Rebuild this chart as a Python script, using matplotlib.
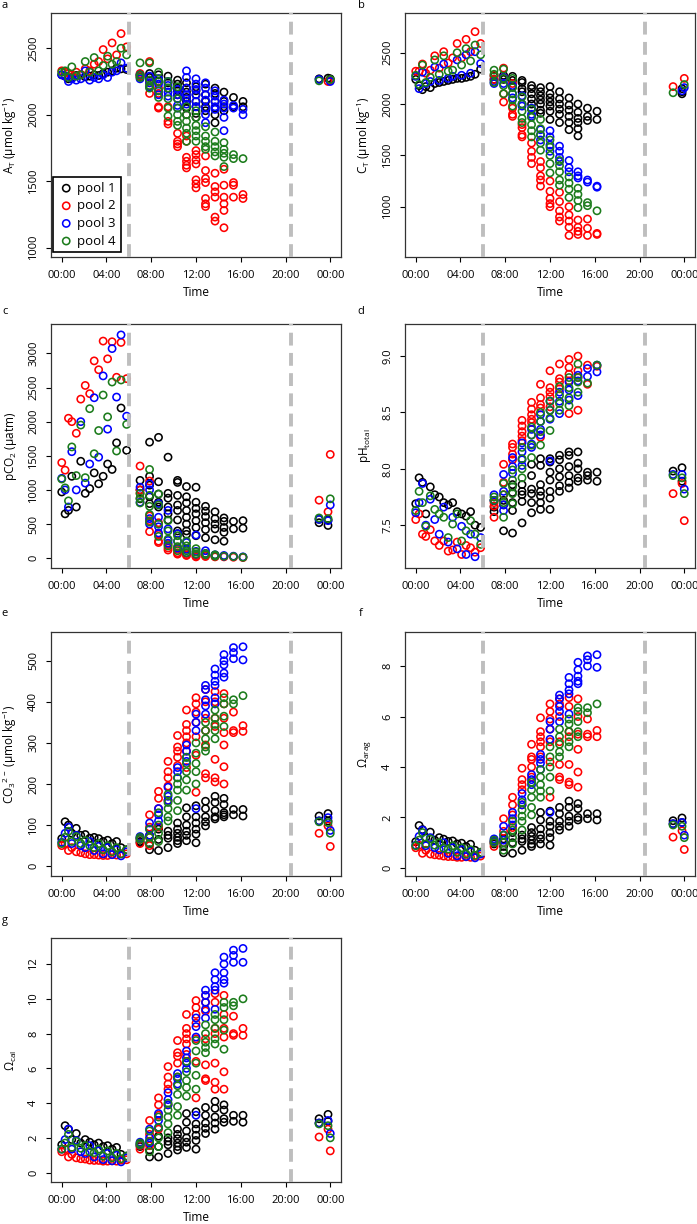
import matplotlib
matplotlib.use("Agg")
import matplotlib.pyplot as plt  # noqa: E402

plt.rcParams["font.family"] = ["Open Sans", "DejaVu Sans"]
plt.rcParams["mathtext.fontset"] = "custom"
plt.rcParams["mathtext.rm"] = "Open Sans"
plt.rcParams["mathtext.default"] = "regular"

# sampling times (hours after midnight); night, daylight and next-morning campaigns
NIGHT_T = [0.0, 0.3, 0.6, 0.9, 1.3, 1.7, 2.1, 2.5, 2.9, 3.3, 3.7, 4.1, 4.5, 4.9, 5.3, 5.8]
DAY_T = [7.0, 7.85, 8.65, 9.5, 10.35, 11.15, 12.0, 12.85, 13.7, 14.5, 15.35, 16.2]
NEXT_T = [23.0, 23.8, 24.0]
POOLS = ["pool 1", "pool 2", "pool 3", "pool 4"]
COLORS = ["black", "#ff0000", "#0000ff", "#1c7c1c"]
DARK_LINES = [6.0, 20.5]
X_TICKS = [0, 4, 8, 12, 16, 20, 24]
X_LABELS = ["00:00", "04:00", "08:00", "12:00", "16:00", "20:00", "00:00"]

# a: total alkalinity
AT_NIGHT = [
    [2300, 2290, 2270, 2280, 2295, 2300, 2285, 2290, 2300, 2295, 2310, 2320, 2330, 2350, 2345, 2340],
    [2330, 2320, 2310, 2300, 2320, 2300, 2345, 2330, 2380, 2400, 2490, 2420, 2540, 2450, 2610, 2510],
    [2300, 2290, 2250, 2270, 2260, 2270, 2330, 2260, 2280, 2270, 2300, 2280, 2320, 2330, 2390, 2350],
    [2320, 2330, 2280, 2360, 2290, 2300, 2400, 2320, 2430, 2330, 2370, 2440, 2380, 2400, 2500, 2450],
]
AT_DAY = [
    [[2300, 2285], [2310, 2280, 2260], [2300, 2270, 2250], [2290, 2240, 2200],
     [2260, 2230, 2200, 2180, 2150], [2240, 2200, 2170, 2130, 2100, 2050, 2000],
     [2210, 2180, 2150, 2100, 2060, 2010, 1980], [2230, 2150, 2100, 2060, 2030],
     [2200, 2160, 2100, 2050, 2000, 1940], [2170, 2100, 2060, 2030], [2130, 2060], [2100, 2060]],
    [[2310, 2290], [2400, 2240, 2160], [2200, 2160, 2060, 2050], [2060, 1950, 1930],
     [1860, 1800, 1780, 1760], [1840, 1800, 1680, 1650, 1620, 1600],
     [1730, 1700, 1660, 1630, 1510, 1480, 1450], [1690, 1580, 1520, 1490, 1370, 1330, 1310],
     [1560, 1460, 1420, 1380, 1230, 1200], [1590, 1470, 1380, 1330, 1280, 1150],
     [1490, 1470, 1380], [1400, 1370]],
    [[2300, 2270], [2290, 2240, 2210], [2270, 2230, 2180, 2150], [2250, 2220, 2170, 2140],
     [2190, 2150, 2120, 2070, 2050], [2330, 2280, 2200, 2150, 2120, 2080],
     [2270, 2230, 2190, 2150, 2100, 2060], [2240, 2200, 2150, 2110, 2050, 2000, 1940],
     [2180, 2140, 2100, 2060, 2040], [2110, 2080, 2050, 1980, 1880], [2070, 2050], [2040, 2000]],
    [[2390, 2300, 2280], [2390, 2260, 2220, 2200], [2320, 2250, 2180, 2130],
     [2250, 2200, 2120, 2050, 1990], [2210, 2120, 2050, 2000, 1950, 1920],
     [2060, 2000, 1950, 1900, 1860, 1800], [2030, 1980, 1920, 1880, 1840, 1800],
     [1910, 1840, 1800, 1760, 1740], [1870, 1800, 1760, 1720, 1690],
     [1790, 1740, 1710, 1680, 1610], [1700, 1670], [1670]],
]
AT_NEXT = [[[2270], [2275], [2270]], [[], [2250], [2255]], [[2265], [], [2250]], [[2255], [], [2265]]]

# b: dissolved inorganic carbon
CT_NIGHT = [
    [2240, 2180, 2140, 2170, 2160, 2200, 2210, 2220, 2230, 2240, 2250, 2250, 2260, 2270, 2290, 2340],
    [2320, 2320, 2390, 2300, 2330, 2470, 2350, 2510, 2400, 2450, 2590, 2450, 2630, 2510, 2705, 2590],
    [2270, 2150, 2310, 2200, 2220, 2360, 2230, 2390, 2250, 2270, 2430, 2280, 2480, 2300, 2510, 2395],
    [2280, 2190, 2380, 2210, 2260, 2430, 2290, 2470, 2320, 2330, 2500, 2380, 2540, 2420, 2575, 2480],
]
CT_DAY = [
    [[2270, 2240], [2280, 2240], [2270, 2230, 2170], [2230, 2210, 2150, 2120],
     [2180, 2150, 2100, 2050, 2000, 1950], [2160, 2120, 2080, 2040, 2000, 1940, 1910],
     [2170, 2100, 2060, 2020, 1980, 1930, 1850], [2120, 2050, 2000, 1950, 1900, 1820],
     [2060, 1990, 1940, 1880, 1820, 1750], [2000, 1920, 1860, 1820, 1760, 1690],
     [1960, 1880, 1840], [1930, 1850]],
    [[2280, 2240], [2350, 2260, 2100, 2020], [2200, 1960, 1900, 1880], [1800, 1770, 1700, 1680],
     [1620, 1540, 1480, 1420], [1440, 1380, 1300, 1260, 1200], [1250, 1150, 1080, 1030, 1000],
     [1140, 1050, 960, 900, 860], [1000, 920, 860, 800, 720], [870, 800, 760, 730],
     [880, 790, 720], [740, 730]],
    [[2220, 2200], [2260, 2200], [2180, 2100, 2060], [2080, 2000, 1980], [1960, 1900, 1880],
     [1750, 1700, 1650], [1740, 1680, 1600, 1540], [1590, 1540, 1480, 1440], [1450, 1380, 1340],
     [1340, 1300, 1280], [1260, 1240], [1200, 1190]],
    [[2330, 2290, 2210], [2340, 2250, 2180, 2100], [2250, 2160, 2100, 2040, 1980],
     [2070, 2000, 1930, 1860, 1820], [1950, 1870, 1800, 1740, 1680], [1850, 1760, 1700, 1620, 1550],
     [1650, 1580, 1500, 1420, 1330], [1450, 1400, 1340, 1260, 1210], [1290, 1230, 1170, 1090],
     [1180, 1120, 1060, 990], [1040, 1010], [960]],
]
CT_NEXT = [[[], [2150, 2120, 2100], []], [[2170], [], [2250]], [[], [2130], [2160]], [[2110], [], [2190]]]

# c: pCO2
PCO2_NIGHT = [
    [970, 650, 700, 1200, 750, 1420, 950, 1020, 1250, 1090, 1200, 1380, 1300, 1690, 2200, 1580],
    [1400, 1290, 2050, 2000, 1830, 2330, 2530, 2410, 2890, 2760, 3180, 2920, 3170, 2650, 3160, 2630],
    [1170, 1000, 750, 1560, 1000, 2000, 1100, 1380, 2350, 1480, 2670, 1890, 3070, 2360, 3270, 2080],
    [1160, 1030, 840, 1630, 1210, 1950, 1180, 2190, 1530, 1870, 2390, 2070, 2580, 1570, 2610, 1960],
]
PCO2_DAY = [
    [[1140, 1000, 870], [1700, 1200, 1070, 900, 800], [1770, 1120, 940, 820, 750],
     [1480, 950, 880, 750, 650, 560], [1140, 1110, 920, 780, 700, 560, 400, 360],
     [1050, 900, 810, 700, 600, 500, 400, 350], [1040, 820, 730, 650, 550, 450, 330],
     [760, 690, 610, 520, 420, 300], [680, 580, 500, 430, 270], [590, 540, 450, 380, 250],
     [540, 430], [550, 440]],
    [[1350, 1000, 950], [1130, 620, 550, 390], [520, 350, 250, 230], [200, 150, 120], [130, 80, 60],
     [70, 50, 40], [50, 30, 20], [40, 25], [30, 20], [20], [15], [10]],
    [[1040, 820], [1090, 1000, 580, 500], [800, 600, 460, 370], [700, 430, 260, 220], [360, 250, 150],
     [230, 130, 80], [340, 100, 60], [110, 70], [50, 40], [40, 30], [30], [20]],
    [[950, 880, 810], [1300, 920, 760, 640, 530], [940, 780, 500, 320], [550, 400, 280, 180],
     [330, 250, 170, 110], [250, 180, 110, 80], [140, 90, 60], [70, 50], [50, 30], [30], [25], [15]],
]
PCO2_NEXT = [[[570, 520], [560, 480], []], [[850], [680], [1520]], [[570], [550], [780]], [[590], [580], [870]]]

# d: pH (total scale)
PH_NIGHT = [
    [7.69, 7.92, 7.88, 7.60, 7.84, 7.77, 7.75, 7.70, 7.68, 7.70, 7.62, 7.60, 7.58, 7.62, 7.50, 7.48],
    [7.55, 7.60, 7.42, 7.40, 7.46, 7.36, 7.32, 7.36, 7.27, 7.28, 7.35, 7.24, 7.32, 7.30, 7.26, 7.30],
    [7.61, 7.70, 7.87, 7.50, 7.73, 7.55, 7.42, 7.66, 7.35, 7.57, 7.29, 7.49, 7.24, 7.42, 7.22, 7.39],
    [7.63, 7.80, 7.70, 7.49, 7.76, 7.64, 7.60, 7.57, 7.39, 7.51, 7.60, 7.36, 7.45, 7.54, 7.42, 7.33],
]
PH_DAY = [
    [[7.72, 7.66, 7.62], [7.72, 7.68, 7.45], [7.86, 7.79, 7.70, 7.63, 7.43], [7.86, 7.80, 7.77, 7.71, 7.52],
     [8.04, 7.94, 7.82, 7.78, 7.70, 7.61], [8.09, 8.03, 7.86, 7.80, 7.76, 7.70, 7.64],
     [8.09, 8.06, 7.97, 7.90, 7.80, 7.74, 7.64], [8.12, 8.08, 8.00, 7.93, 7.85, 7.80],
     [8.15, 8.12, 8.02, 7.94, 7.88, 7.83], [8.15, 8.05, 8.00, 7.92, 7.89], [7.97, 7.94, 7.90], [7.97, 7.89]],
    [[7.70, 7.67, 7.57], [8.04, 7.88, 7.77], [8.22, 8.19, 8.13, 8.08], [8.43, 8.38, 8.33, 8.29, 8.25],
     [8.59, 8.53, 8.48, 8.44, 8.41], [8.75, 8.63, 8.57, 8.54, 8.28], [8.87, 8.72, 8.68, 8.64, 8.55],
     [8.93, 8.80, 8.77, 8.71], [8.97, 8.90, 8.84, 8.78, 8.49], [9.00, 8.87, 8.81, 8.52], [8.92, 8.75], [8.91]],
    [[7.77, 7.72], [7.95, 7.80, 7.68, 7.63], [8.10, 8.02, 7.96], [8.23, 8.15, 8.08, 8.03],
     [8.35, 8.30, 8.22, 8.19], [8.48, 8.42, 8.35, 8.30], [8.60, 8.52, 8.44, 8.07], [8.68, 8.60, 8.49],
     [8.77, 8.70, 8.61], [8.83, 8.78, 8.65], [8.89, 8.82], [8.92, 8.86]],
    [[7.75, 7.72], [7.87, 7.77, 7.70, 7.57], [7.99, 7.90, 7.84, 7.78, 7.69], [8.19, 8.09, 8.00, 7.92],
     [8.37, 8.30, 8.21, 8.10], [8.50, 8.42, 8.33, 8.21], [8.60, 8.52, 8.45, 8.34], [8.73, 8.65, 8.58, 8.52],
     [8.81, 8.72, 8.63, 8.56], [8.93, 8.81, 8.77, 8.68], [8.76], [8.92]],
]
PH_NEXT = [[[7.98], [8.01, 7.89], []], [[7.78], [7.87], [7.54]], [[7.95], [7.95], [7.82]], [[7.94], [7.92], [7.78]]]

# e: carbonate ion
CO3_NIGHT = [
    [67, 108, 100, 80, 92, 75, 77, 68, 70, 67, 60, 63, 55, 60, 45, 40],
    [50, 55, 38, 45, 35, 33, 30, 28, 28, 27, 26, 26, 28, 27, 30, 30],
    [58, 80, 95, 55, 75, 50, 45, 60, 38, 48, 30, 45, 28, 40, 25, 35],
    [55, 70, 85, 60, 72, 55, 62, 50, 45, 55, 40, 50, 35, 45, 30, 40],
]
CO3_DAY = [
    [[68, 60, 57], [75, 55, 40], [90, 65, 38], [85, 75, 68, 45], [105, 90, 80, 70, 62, 55],
     [142, 120, 100, 85, 75, 62], [147, 120, 105, 90, 78, 57], [158, 140, 120, 108, 98],
     [170, 155, 135, 120, 115], [165, 150, 130, 125, 120], [138, 125], [138, 122]],
    [[65, 55], [125, 95, 70, 50], [182, 165, 140, 95], [255, 230, 215, 195, 160],
     [318, 290, 280, 265, 245], [380, 345, 330, 315, 300, 280, 240], [410, 395, 375, 350, 315, 270, 180],
     [430, 400, 360, 330, 295, 225, 215], [425, 400, 360, 340, 260, 215, 205],
     [420, 395, 360, 325, 295, 242, 200], [375, 330, 325], [342, 328]],
    [[72, 68], [105, 90, 75], [140, 125, 110], [192, 170, 160], [240, 230, 215], [295, 280, 265, 255],
     [370, 350, 330, 140], [440, 430, 405, 390, 370], [480, 465, 450, 440, 410, 395],
     [515, 500, 490, 470, 460], [532, 520, 505], [534, 502]],
    [[70, 65], [90, 70, 55], [130, 100, 80, 60], [175, 155, 140, 120, 110], [215, 200, 185, 160, 135],
     [265, 250, 230, 210, 185], [300, 275, 250, 230, 200], [350, 330, 310, 290, 280],
     [380, 360, 345, 330, 310], [410, 395, 365, 340], [405, 395], [415]],
]
CO3_NEXT = [[[122, 110], [128, 110], []], [[80], [98], [48]], [[110], [118], [87]], [[108], [106], [80]]]

# f: aragonite saturation
ARAG_NIGHT = [
    [1.04, 1.68, 1.52, 1.20, 1.42, 1.10, 1.20, 1.14, 1.05, 1.07, 0.95, 0.98, 0.85, 0.94, 0.70, 0.62],
    [0.80, 0.90, 0.58, 0.70, 0.55, 0.52, 0.50, 0.47, 0.45, 0.45, 0.42, 0.42, 0.44, 0.42, 0.46, 0.47],
    [0.90, 1.25, 1.50, 0.88, 1.20, 0.80, 0.72, 1.00, 0.58, 0.80, 0.48, 0.72, 0.45, 0.65, 0.40, 0.55],
    [0.88, 1.10, 1.40, 0.95, 1.15, 0.90, 1.00, 0.78, 0.75, 0.88, 0.62, 0.80, 0.55, 0.72, 0.50, 0.62],
]
ARAG_DAY = [
    [[1.05, 0.95], [1.15, 0.85, 0.60], [1.40, 1.00, 0.58], [1.30, 1.15, 1.05, 0.70],
     [1.60, 1.40, 1.25, 1.10, 0.95, 0.85], [2.20, 1.90, 1.55, 1.30, 1.15, 0.95],
     [2.25, 1.85, 1.65, 1.40, 1.20, 0.90], [2.40, 2.15, 1.85, 1.65, 1.50], [2.65, 2.40, 2.05, 1.85, 1.65],
     [2.55, 2.35, 2.00, 1.90], [2.15, 1.95], [2.15, 1.90]],
    [[1.00, 0.85], [1.95, 1.45, 1.00], [2.80, 2.50, 2.10, 1.60], [3.95, 3.50, 3.30, 3.10, 2.50],
     [4.90, 4.40, 4.30, 4.00, 3.60], [5.95, 5.40, 5.20, 5.00, 4.80, 4.40],
     [6.50, 6.20, 5.90, 5.50, 5.00, 4.20, 2.80], [6.70, 6.50, 6.00, 5.00, 4.10, 3.60, 3.50],
     [6.75, 6.40, 5.40, 5.20, 4.10, 3.40, 3.30], [6.70, 6.00, 5.30, 4.70, 3.80, 3.20],
     [5.90, 5.30, 5.20], [5.45, 5.20]],
    [[1.15, 1.05], [1.65, 1.30, 1.10], [2.20, 1.95, 1.70], [2.95, 2.70, 2.50], [3.70, 3.50, 3.30],
     [4.50, 4.30, 4.15, 3.90], [5.80, 5.50, 5.10, 2.20], [6.85, 6.70, 6.40, 6.20, 5.80],
     [7.55, 7.30, 7.05, 6.90, 6.10], [8.15, 7.85, 7.60, 7.40, 7.30], [8.40, 8.25, 8.00], [8.45, 7.95]],
    [[1.10, 1.00], [1.30, 1.00, 0.70], [1.85, 1.50, 1.20, 0.95], [2.60, 2.30, 2.05, 1.85, 1.50],
     [3.40, 3.10, 2.80, 2.40, 2.10], [3.90, 3.60, 3.30, 3.05, 2.80], [4.80, 4.40, 4.00, 3.60, 3.05],
     [5.50, 5.20, 4.90, 4.60, 4.40], [5.90, 5.70, 5.40, 5.00, 4.80], [6.35, 6.20, 5.80, 5.40, 5.20],
     [6.35, 6.15], [6.50]],
]
ARAG_NEXT = [[[1.87, 1.75], [1.98, 1.80], []], [[1.22], [1.47], [0.73]], [[1.75], [1.80], [1.30]],
             [[1.70], [1.65], [1.20]]]

# g: calcite saturation
CAL_NIGHT = [
    [1.60, 2.70, 2.50, 1.90, 2.25, 1.70, 1.90, 1.75, 1.60, 1.70, 1.50, 1.55, 1.35, 1.45, 1.05, 0.95],
    [1.20, 1.35, 0.90, 1.05, 0.85, 0.80, 0.78, 0.72, 0.70, 0.70, 0.66, 0.66, 0.68, 0.66, 0.72, 0.74],
    [1.35, 1.90, 2.50, 1.35, 1.85, 1.20, 1.10, 1.55, 0.90, 1.25, 0.75, 1.10, 0.68, 1.00, 0.62, 0.85],
    [1.35, 1.70, 2.20, 1.45, 1.80, 1.40, 1.55, 1.20, 1.15, 1.35, 0.95, 1.25, 0.85, 1.10, 0.80, 0.95],
]
CAL_DAY = [
    [[1.65, 1.50], [1.80, 1.30, 0.90], [2.10, 1.50, 0.90], [2.00, 1.80, 1.60, 1.10],
     [2.50, 2.20, 1.95, 1.70, 1.50, 1.30], [3.40, 2.90, 2.40, 2.00, 1.75, 1.45],
     [3.50, 2.80, 2.50, 2.15, 1.85, 1.35], [3.75, 3.30, 2.85, 2.55, 2.25], [4.10, 3.70, 3.20, 2.85, 2.50],
     [3.90, 3.60, 3.10, 2.90], [3.30, 2.95], [3.30, 2.90]],
    [[1.55, 1.35], [3.00, 2.20, 1.55], [4.30, 3.90, 3.30, 2.50], [6.10, 5.50, 5.10, 4.80, 3.90],
     [7.60, 6.90, 6.70, 6.30, 5.50], [9.10, 8.30, 8.00, 7.70, 7.40, 6.80],
     [9.90, 9.50, 9.10, 8.60, 7.70, 6.40, 4.30], [10.20, 9.80, 9.30, 7.70, 6.20, 5.40, 5.30],
     [10.30, 9.80, 8.30, 8.00, 6.30, 5.20, 4.80], [10.20, 9.10, 8.30, 7.80, 5.80, 4.80],
     [9.00, 8.00, 7.90], [8.30, 7.90]],
    [[1.75, 1.60], [2.50, 2.00, 1.70], [3.40, 3.00, 2.60], [4.60, 4.20, 3.90], [5.70, 5.40, 5.10],
     [7.00, 6.60, 6.30, 6.00], [8.90, 8.40, 7.80, 3.30], [10.50, 10.20, 9.80, 9.40, 8.90],
     [11.50, 11.10, 10.70, 10.50, 9.40], [12.40, 12.00, 11.50, 11.10, 10.90], [12.80, 12.50, 12.10],
     [12.90, 12.10]],
    [[1.70, 1.60], [2.40, 1.80, 1.20], [3.20, 2.60, 2.00, 1.50], [4.00, 3.60, 3.20, 2.80, 2.30],
     [5.50, 5.00, 4.50, 3.80, 3.30], [6.40, 5.80, 5.30, 4.90, 4.40], [7.60, 7.00, 6.30, 5.60, 4.80],
     [8.50, 8.00, 7.50, 7.20, 6.90], [9.10, 8.80, 8.30, 7.70, 7.40], [9.80, 9.50, 8.80, 8.20, 7.10],
     [9.80, 9.60], [10.00]],
]
CAL_NEXT = [[[3.10, 2.85], [3.35, 2.95], []], [[2.05], [2.50], [1.25]], [[2.85], [3.00], [2.25]],
            [[2.80], [2.70], [2.00]]]

W, H = 697, 1224
COL_X = [51, 405]
ROW_Y = [13, 324, 632, 938]
LETTER_X = [5, 361]
LETTER_Y = [5, 311, 613, 920]
AX_W, AX_H = 290, 244

# letter, y label, data, ylim, yticks, tick format, column, row
PANELS = [
    ("a", "A$_T$ (µmol kg$^{-1}$)", AT_NIGHT, AT_DAY, AT_NEXT, (930, 2765), [1000, 1500, 2000, 2500], "{:.0f}", 0, 0),
    ("b", "C$_T$ (µmol kg$^{-1}$)", CT_NIGHT, CT_DAY, CT_NEXT, (510, 2887), [1000, 1500, 2000, 2500], "{:.0f}", 1, 0),
    ("c", "pCO$_2$ (µatm)", PCO2_NIGHT, PCO2_DAY, PCO2_NEXT, (-143, 3430), list(range(0, 3001, 500)), "{:.0f}", 0, 1),
    ("d", "pH$_{total}$", PH_NIGHT, PH_DAY, PH_NEXT, (7.12, 9.285), [7.5, 8.0, 8.5, 9.0], "{:.1f}", 1, 1),
    ("e", "CO$_3$$^{2-}$ (µmol kg$^{-1}$)", CO3_NIGHT, CO3_DAY, CO3_NEXT, (-24, 570), list(range(0, 501, 100)), "{:.0f}", 0, 2),
    ("f", "Ω$_{arag}$", ARAG_NIGHT, ARAG_DAY, ARAG_NEXT, (-0.32, 9.35), [0, 2, 4, 6, 8], "{:.0f}", 1, 2),
    ("g", "Ω$_{cal}$", CAL_NIGHT, CAL_DAY, CAL_NEXT, (-0.54, 13.5), list(range(0, 13, 2)), "{:.0f}", 0, 3),
]


def pool_points(night, day, nxt):
    xs, ys = list(NIGHT_T), list(night)
    for t, vals in zip(DAY_T, day):
        xs += [t] * len(vals)
        ys += vals
    for t, vals in zip(NEXT_T, nxt):
        xs += [t] * len(vals)
        ys += vals
    return xs, ys


fig = plt.figure(figsize=(W / 100, H / 100), dpi=100)
for letter, ylab, night, day, nxt, ylim, yticks, fmt, col, row in PANELS:
    x0, y0 = COL_X[col], ROW_Y[row]
    ax = fig.add_axes([x0 / W, 1 - (y0 + AX_H) / H, AX_W / W, AX_H / H])
    for k in range(4):
        xs, ys = pool_points(night[k], day[k], nxt[k])
        ax.scatter(xs, ys, s=27, facecolors="none", edgecolors=COLORS[k], linewidths=1.15,
                   label=POOLS[k], zorder=2)
    for xv in DARK_LINES:
        ax.axvline(xv, color="#bebebe", lw=2.8, linestyle=(0, (3.3, 1.9)), zorder=3)
    ax.set_xlim(-0.96, 24.96)
    ax.set_ylim(*ylim)
    ax.set_xticks(X_TICKS)
    ax.set_xticklabels(X_LABELS)
    ax.set_yticks(yticks)
    ax.set_yticklabels([fmt.format(v) for v in yticks], rotation=90, va="center")
    ax.tick_params(axis="x", length=3.6, width=0.8, pad=6, labelsize=8)
    ax.tick_params(axis="y", length=3.6, width=0.8, pad=5, labelsize=8)
    for side in ax.spines.values():
        side.set_linewidth(0.9)
        side.set_color("#333333")
    ax.set_xlabel("Time", fontsize=8.5)
    ax.xaxis.set_label_coords(0.5, -0.12)
    ax.set_ylabel(ylab, fontsize=8.5)
    ax.yaxis.set_label_coords(-0.112, 0.5)
    fig.text(LETTER_X[col] / W, 1 - LETTER_Y[row] / H, letter, fontsize=8, ha="center", va="center")
    if letter == "a":
        ax.legend(loc="lower left", bbox_to_anchor=(0.007, 0.02), borderaxespad=0, fontsize=9.5,
                  frameon=True, fancybox=False, edgecolor="black", framealpha=1, handletextpad=0.2,
                  labelspacing=0.35, borderpad=0.35, handlelength=1.3, scatterpoints=1)
        ax.get_legend().get_frame().set_linewidth(1.2)

fig.savefig("out.png", dpi=100)
